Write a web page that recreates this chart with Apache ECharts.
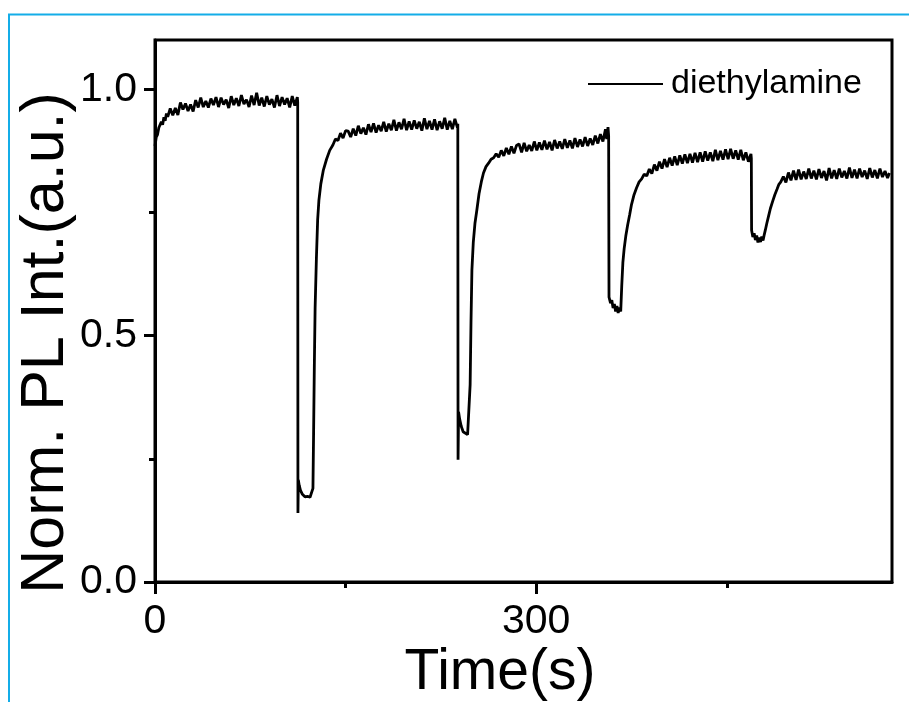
<!DOCTYPE html>
<html>
<head>
<meta charset="utf-8">
<script src="https://cdn.jsdelivr.net/npm/echarts@6/dist/echarts.min.js"></script>
<style>
html,body{margin:0;padding:0;background:#fff;}
#chart{width:909px;height:702px;}
</style>
</head>
<body>
<div id="chart"></div>
<script>
// Time (s) vs normalized PL intensity
const diethylamine = [
[0,0.885],[1,0.903],[2,0.908],[3,0.922],[4,0.919],[5,0.934],[6,0.928],[7,0.943],[8,0.936],[9,0.951],[10,0.944],
[12,0.961],[14,0.947],[16,0.962],[18,0.948],[20,0.973],[22,0.959],[24,0.971],[26,0.956],[28,0.969],[30,0.955],
[32,0.978],[34,0.963],[36,0.983],[38,0.964],[40,0.976],[42,0.963],[44,0.981],[46,0.968],[48,0.984],[50,0.964],
[52,0.983],[54,0.969],[56,0.979],[58,0.962],[60,0.986],[62,0.968],[64,0.982],[66,0.966],[68,0.988],[70,0.970],
[72,0.979],[74,0.964],[76,0.987],[78,0.968],[80,0.993],[82,0.967],[84,0.983],[86,0.965],[88,0.986],[90,0.969],
[92,0.980],[94,0.963],[96,0.988],[98,0.966],[100,0.984],[102,0.969],[104,0.982],[106,0.963],[108,0.986],[110,0.967],
[112,0.984],[112.3,0.974],
[112.5,0.140],[112.8,0.207],[113.5,0.196],[114.5,0.186],[116,0.178],[118,0.173],[120,0.174],[122,0.172],[123.5,0.175],
[124.3,0.190],[124.8,0.300],[125.4,0.440],[126,0.555],[127,0.655],[128,0.735],[129,0.775],[130.5,0.808],[132.5,0.836],
[135,0.858],[137.5,0.876],[140,0.887],[142,0.899],[144,0.896],[146,0.911],[148,0.901],[150,0.916],
[152,0.915],[154,0.903],[156,0.920],[158,0.906],[160,0.926],[162,0.910],[164,0.922],[166,0.908],[168,0.929],[170,0.913],
[172,0.931],[174,0.912],[176,0.927],[178,0.915],[180,0.934],[182,0.914],[184,0.930],[186,0.917],[188,0.938],[190,0.916],
[192,0.933],[194,0.919],[196,0.940],[198,0.917],[200,0.935],[202,0.918],[204,0.937],[206,0.920],[208,0.934],[210,0.916],
[212,0.941],[214,0.919],[216,0.936],[218,0.918],[220,0.939],[222,0.917],[224,0.935],[226,0.920],[228,0.942],[230,0.918],
[232,0.936],[234,0.919],[236,0.940],[238,0.922],[238.3,0.930],
[238.5,0.248],[238.9,0.345],[239.8,0.330],[241,0.316],[242.5,0.305],[244,0.301],[246,0.299],[247.3,0.302],
[248,0.400],[248.7,0.530],[249.4,0.633],[250.5,0.690],[251.8,0.728],[253.3,0.755],[255,0.788],[256.8,0.812],[258.5,0.830],
[260.5,0.843],[262.5,0.850],[264.5,0.858],[266.5,0.861],[268.5,0.869],[270.5,0.862],[272.5,0.876],[274.5,0.865],
[276.5,0.881],[278.5,0.868],[280.5,0.884],[282.5,0.870],[284.5,0.886],
[286.5,0.889],[288.5,0.872],[290.5,0.891],[292.5,0.874],[294.5,0.887],[296.5,0.875],[298.5,0.894],[300.5,0.876],
[302.5,0.892],[304.5,0.877],[306.5,0.896],[308.5,0.878],[310.5,0.893],[312.5,0.876],[314.5,0.897],[316.5,0.880],
[318.5,0.894],[320.5,0.879],[322.5,0.899],[324.5,0.881],[326.5,0.896],[328.5,0.880],[330.5,0.901],[332.5,0.883],
[334.5,0.898],[336.5,0.884],[338.5,0.903],[340.5,0.885],[342.5,0.900],[344.5,0.887],[346.5,0.906],[348.5,0.890],
[350.5,0.909],[352.5,0.894],[354.5,0.919],[355.5,0.899],[356.5,0.923],[357,0.906],
[357.3,0.578],[358.5,0.566],[359.5,0.572],[360.5,0.556],[361.5,0.564],[362.5,0.549],[363.5,0.560],[364.5,0.546],
[365.5,0.557],[366.5,0.549],[367.3,0.600],[368.2,0.648],[369.2,0.676],[370.5,0.702],[372,0.725],[373.5,0.745],
[375,0.766],[377,0.786],[379,0.800],[381,0.812],[383,0.818],[385,0.828],[387,0.824],
[389,0.838],[391,0.829],[393,0.847],[395,0.835],[397,0.853],[399,0.839],[401,0.858],[403,0.842],[405,0.861],
[407,0.845],[409,0.864],[411,0.846],[413,0.866],[415,0.849],[417,0.868],[419,0.850],[421,0.869],[423,0.851],
[425,0.871],[427,0.852],[429,0.872],[431,0.853],[433,0.874],[435,0.855],[437,0.872],[439,0.854],[441,0.877],
[443,0.856],[445,0.875],[447,0.857],[449,0.878],[451,0.858],[453,0.879],[455,0.859],[457,0.876],[459,0.857],
[461,0.877],[463,0.856],[465,0.872],[467,0.853],[469,0.869],[469.3,0.860],
[469.5,0.714],[470.5,0.700],[471.5,0.708],[472.5,0.694],[473.5,0.703],[474.5,0.689],[475.5,0.699],[476.5,0.690],
[477.5,0.701],[478.5,0.693],[479.3,0.703],[480.3,0.714],[481.5,0.728],[483,0.744],[484.3,0.758],[486,0.772],
[487.8,0.786],[489.5,0.797],[491,0.807],[492.5,0.812],[494.5,0.823],[496.5,0.811],[498.5,0.831],[500.5,0.815],
[502.5,0.835],[504.5,0.816],[506.5,0.837],[508.5,0.817],[510.5,0.833],[512.5,0.818],[514.5,0.839],[516.5,0.819],
[518.5,0.835],[520.5,0.817],[522.5,0.838],[524.5,0.820],[526.5,0.834],[528.5,0.815],[530.5,0.840],[532.5,0.819],
[534.5,0.836],[536.5,0.818],[538.5,0.839],[540.5,0.821],[542.5,0.834],[544.5,0.819],[546.5,0.841],[548.5,0.820],
[550.5,0.837],[552.5,0.819],[554.5,0.839],[556.5,0.822],[558.5,0.835],[560.5,0.818],[562.5,0.840],[564.5,0.821],
[566.5,0.836],[568.5,0.819],[570.5,0.839],[572.5,0.822],[574.5,0.834],[576.5,0.820],[578,0.830]
];
const seriesName = 'diethylamine';
const xMajorTicks = [0, 300];
const xMinorTicks = [150, 450];
const yMajorTicks = [0, 0.5, 1.0];
const yMinorTicks = [0.25, 0.75];
const xTitle = 'Time(s)';
const yTitle = 'Norm. PL Int.(a.u.)';

const FONT = "'Liberation Sans', Arial, Helvetica, sans-serif";
const chart = echarts.init(document.getElementById('chart'), null, {renderer: 'canvas'});
const axisRange = {x: [0, 580], y: [0, 1.1]};

chart.setOption({
  animation: false,
  backgroundColor: '#ffffff',
  graphic: [{
    type: 'rect',
    shape: {x: 9, y: 14.5, width: 1200, height: 1200},
    style: {fill: 'none', stroke: '#14ADE8', lineWidth: 2},
    silent: true, z: -10
  }],
  grid: {
    left: 155, right: 17, top: 40, bottom: 120,
    show: true, borderColor: '#000', borderWidth: 3,
    containLabel: false, outerBoundsMode: 'none'
  },
  legend: {
    data: [{name: seriesName, icon: 'rect'}],
    left: 588, top: 67, padding: 0,
    itemWidth: 75, itemHeight: 2,
    textStyle: {fontSize: 34, color: '#000', fontFamily: FONT, padding: [0, 0, 0, 3]},
    selectedMode: false
  },
  xAxis: [{
    type: 'value', min: axisRange.x[0], max: axisRange.x[1], position: 'bottom',
    axisLine: {show: true, lineStyle: {color: '#000', width: 3}},
    axisTick: {show: true, customValues: xMajorTicks, length: 12, lineStyle: {color: '#000', width: 3}},
    axisLabel: {show: true, customValues: xMajorTicks, fontSize: 41, color: '#000', fontFamily: FONT, margin: 19},
    splitLine: {show: false},
    name: xTitle, nameLocation: 'middle', nameGap: 63, nameMoveOverlap: false,
    nameTextStyle: {fontSize: 57, color: '#000', fontFamily: FONT, padding: [0, 47, 0, 0]}
  }, {
    type: 'value', min: axisRange.x[0], max: axisRange.x[1], position: 'bottom',
    axisLine: {show: false},
    axisTick: {show: true, customValues: xMinorTicks, length: 6, lineStyle: {color: '#000', width: 3}},
    axisLabel: {show: false},
    splitLine: {show: false}
  }],
  yAxis: [{
    type: 'value', min: axisRange.y[0], max: axisRange.y[1], position: 'left',
    axisLine: {show: true, lineStyle: {color: '#000', width: 3}},
    axisTick: {show: true, customValues: yMajorTicks, length: 11, lineStyle: {color: '#000', width: 3}},
    axisLabel: {show: true, customValues: yMajorTicks, fontSize: 41, color: '#000', fontFamily: FONT, margin: 18,
      formatter: v => Number(v).toFixed(1)},
    splitLine: {show: false},
    name: yTitle, nameLocation: 'middle', nameGap: 78, nameMoveOverlap: false,
    nameTextStyle: {fontSize: 61, color: '#000', fontFamily: FONT, padding: [0, 64, 0, 0]}
  }, {
    type: 'value', min: axisRange.y[0], max: axisRange.y[1], position: 'left',
    axisLine: {show: false},
    axisTick: {show: true, customValues: yMinorTicks, length: 6, lineStyle: {color: '#000', width: 3}},
    axisLabel: {show: false},
    splitLine: {show: false}
  }],
  series: [{
    name: seriesName,
    type: 'line',
    xAxisIndex: 0, yAxisIndex: 0,
    data: diethylamine,
    symbol: 'none', showSymbol: false,
    color: '#000',
    itemStyle: {color: '#000'},
    lineStyle: {color: '#000', width: 2.8},
    z: 5
  }]
});
</script>
</body>
</html>
